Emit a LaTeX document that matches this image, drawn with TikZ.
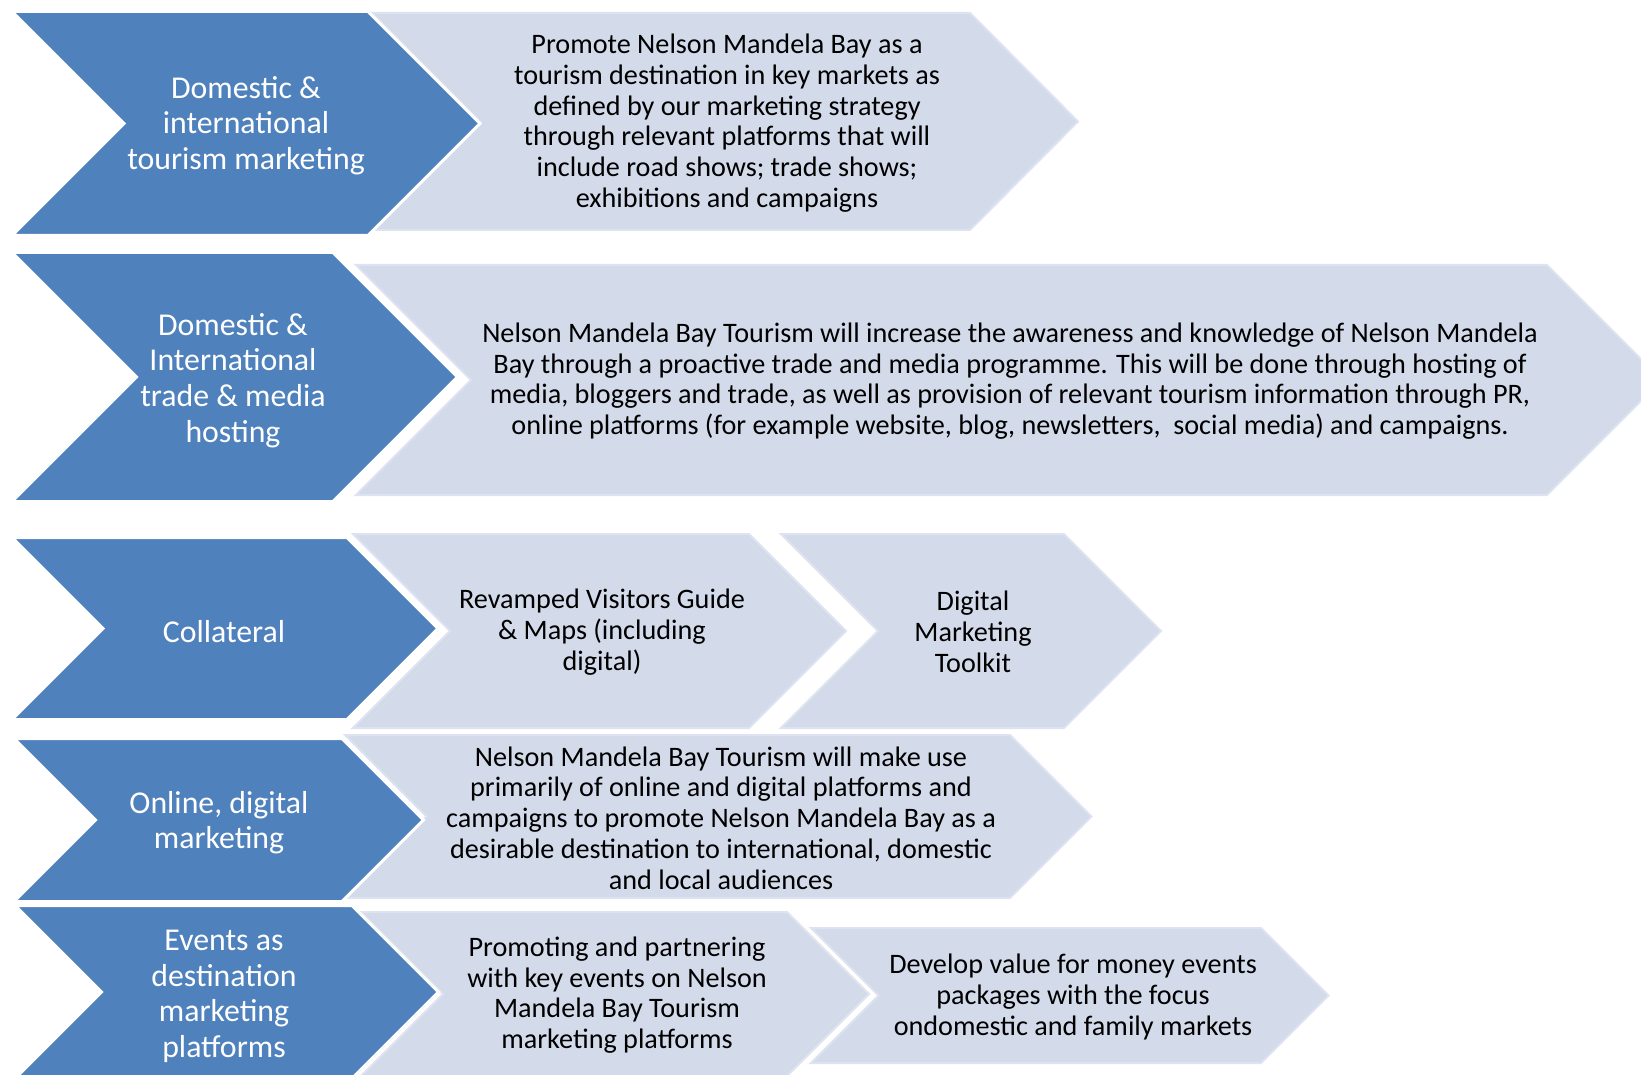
\documentclass[tikz,border=0pt]{standalone}
\usepackage{fontspec}
\setmainfont{Carlito}
\definecolor{stageblue}{RGB}{79,129,189}
\definecolor{detailfill}{RGB}{211,218,234}
\definecolor{detailedge}{RGB}{221,227,240}
\tikzset{
  stagearrow/.style={fill=stageblue, draw=white, line width=3pt, line join=miter},
  detailarrow/.style={fill=detailfill, draw=detailedge, line width=2pt, line join=miter},
  stagetext/.style={text=white, align=center, inner sep=0pt, yshift=-3.5pt, font=\fontsize{31.8}{35.6}\selectfont},
  detailtext/.style={text=black, align=center, inner sep=0pt, yshift=-2pt, font=\fontsize{28.2}{30.7}\selectfont}
}
% chevron: #1 style, #2 left, #3 flat right, #4 top, #5 bottom, #6 point depth
\newcommand\chevronpath[6]{%
  \path[#1] (#2,#4) -- (#3,#4) -- ({#3+#6},{(#4+#5)/2}) -- (#3,#5) -- (#2,#5)
    -- ({#2+#6},{(#4+#5)/2}) -- cycle;}
\begin{document}
\begin{tikzpicture}[x=1pt,y=-1pt]
\useasboundingbox (0,0) rectangle (1641,1075);
\clip (0,0) rectangle (1641,1075);
\fill[white] (0,0) rectangle (1641,1075);

% detail arrows (behind the stage arrows)
\chevronpath{detailarrow}{372}{970}{13}{230}{108}
\chevronpath{detailarrow}{356}{1547}{265}{495}{115}
\chevronpath{detailarrow}{353}{749}{534}{728}{97}
\chevronpath{detailarrow}{781}{1064}{534}{728}{97}
\chevronpath{detailarrow}{345}{1010}{735}{898}{81.5}
\chevronpath{detailarrow}{361}{787}{912}{1076}{82}
\chevronpath{detailarrow}{811}{1261}{928}{1063}{67.5}

% stage arrows (outlined in white so they stand clear of the detail arrows)
\chevronpath{stagearrow}{12}{368}{11.5}{235.5}{112}
\chevronpath{stagearrow}{12}{333}{252.5}{501.5}{124.5}
\chevronpath{stagearrow}{12}{347}{537.5}{719.5}{91}
\chevronpath{stagearrow}{14}{342}{738.5}{901.5}{81.5}
\chevronpath{stagearrow}{15}{352}{905.5}{1078.5}{86.5}

% stage labels
\node[stagetext] (s1) at (246,122) {Domestic \&\\international\\tourism marketing};
\node[stagetext] (s2) at (233,377) {Domestic \&\\International\\trade \& media\\hosting};
\node[stagetext] (s3) at (224,628) {Collateral};
\node[stagetext] (s4) at (219,819) {Online, digital\\marketing};
\node[stagetext] (s5) at (224,993) {Events as\\destination\\marketing\\platforms};

% detail labels
\node[detailtext] (d1) at (727,121) {Promote Nelson Mandela Bay as a\\tourism destination in key markets as\\defined by our marketing strategy\\through relevant platforms that will\\include road shows; trade shows;\\exhibitions and campaigns};
\node[detailtext] (d2) at (1010,379) {Nelson Mandela Bay Tourism will increase the awareness and knowledge of Nelson Mandela\\Bay through a proactive trade and media programme. This will be done through hosting of\\media, bloggers and trade, as well as provision of relevant tourism information through PR,\\online platforms (for example website, blog, newsletters,\ \ social media) and campaigns.};
\node[detailtext] (d3a) at (602,630) {Revamped Visitors Guide\\\& Maps (including\\digital)};
\node[detailtext] (d3b) at (973,630) {Digital\\Marketing\\Toolkit};
\node[detailtext] (d4) at (721,816) {Nelson Mandela Bay Tourism will make use\\primarily of online and digital platforms and\\campaigns to promote Nelson Mandela Bay as a\\desirable destination to international, domestic\\and local audiences};
\node[detailtext] (d5a) at (617,993) {Promoting and partnering\\with key events on Nelson\\Mandela Bay Tourism\\marketing platforms};
\node[detailtext] (d5b) at (1073,995) {Develop value for money events\\packages with the focus\\ondomestic and family markets};
\end{tikzpicture}
\end{document}
